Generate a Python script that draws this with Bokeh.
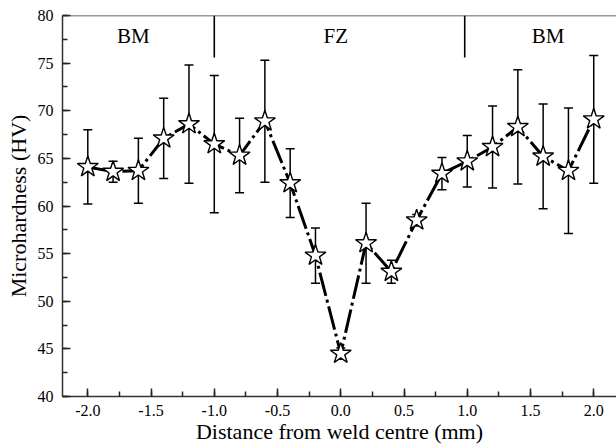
from bokeh.plotting import figure
from bokeh.models import (ColumnDataSource, Whisker, TeeHead, Span,
                          NumeralTickFormatter, SingleIntervalTicker, Range1d)
from bokeh.embed import file_html
from bokeh.resources import INLINE

# ---- data ----
distance = [-2.0, -1.8, -1.6, -1.4, -1.2, -1.0, -0.8, -0.6, -0.4, -0.2, 0.0,
            0.2, 0.4, 0.6, 0.8, 1.0, 1.2, 1.4, 1.6, 1.8, 2.0]
hardness = [64.1, 63.6, 63.7, 67.1, 68.6, 66.5, 65.3, 68.9, 62.4, 54.8, 44.5,
            56.1, 53.1, 58.5, 63.4, 64.7, 66.2, 68.3, 65.2, 63.7, 69.1]
error = [3.9, 1.1, 3.4, 4.2, 6.2, 7.2, 3.9, 6.4, 3.6, 2.9, 0.6,
         4.2, 1.2, 0.6, 1.7, 2.7, 4.3, 6.0, 5.5, 6.6, 6.7]

zone_bounds = [-1.0, 0.98]
zone_bound_bottom = 75.6
zone_names = ["BM", "FZ", "BM"]
zone_label_x = [-1.64, -0.04, 1.64]
zone_label_y = [77.8, 77.8, 77.8]

FONT = "Liberation Serif"

src = ColumnDataSource(dict(
    x=distance, y=hardness,
    upper=[h + e for h, e in zip(hardness, error)],
    lower=[h - e for h, e in zip(hardness, error)],
))

p = figure(width=616, height=446, output_backend="svg", toolbar_location=None,
           x_range=Range1d(-2.2, 2.18), y_range=Range1d(40, 80),
           min_border_left=62, min_border_right=0, min_border_top=15,
           min_border_bottom=42)
p.outline_line_color = None
p.grid.grid_line_color = None
p.background_fill_color = "white"

# error bars
w = Whisker(source=src, base="x", upper="upper", lower="lower",
            line_color="black", line_width=1.5, level="underlay",
            upper_head=TeeHead(size=9, line_width=1.5, line_color="black"),
            lower_head=TeeHead(size=9, line_width=1.5, line_color="black"))
p.add_layout(w)

# connecting line
p.line("x", "y", source=src, line_color="black", line_width=3,
       line_dash="24 4 3 4")

# star markers
p.scatter("x", "y", source=src, marker="star", size=22,
          fill_color="white", line_color="black", line_width=1.4)

# zone boundaries
p.segment(x0=zone_bounds, x1=zone_bounds, y0=[zone_bound_bottom] * 2,
          y1=[80, 80], line_color="black", line_width=1.6)

# top frame line
p.add_layout(Span(location=80, dimension="width", line_color="#333333",
                  line_width=1.5))

p.text(x=zone_label_x, y=zone_label_y, text=zone_names,
       text_font=FONT, text_font_size="21px", text_align="center",
       text_baseline="middle", text_color="black")

# axes
for ax in (p.xaxis[0], p.yaxis[0]):
    ax.axis_line_color = "#333333"
    ax.axis_line_width = 1.5
    ax.major_tick_in = 8
    ax.major_tick_out = 0
    ax.minor_tick_in = 5
    ax.minor_tick_out = 0
    ax.major_tick_line_color = "#222222"
    ax.minor_tick_line_color = "#222222"
    ax.major_tick_line_width = 1.5
    ax.minor_tick_line_width = 1.5
    ax.major_label_text_font = FONT
    ax.major_label_text_font_size = "16px"
    ax.major_label_text_color = "black"
    ax.axis_label_text_font = FONT
    ax.axis_label_text_font_size = "22px"
    ax.axis_label_text_font_style = "normal"
    ax.axis_label_text_color = "black"

p.xaxis.ticker = SingleIntervalTicker(interval=0.5, num_minor_ticks=2)
p.yaxis.ticker = SingleIntervalTicker(interval=5, num_minor_ticks=2)
p.xaxis.formatter = NumeralTickFormatter(format="0.0")
p.xaxis.axis_label = "Distance from weld centre (mm)"
p.yaxis.axis_label = "Microhardness (HV)"
p.xaxis.major_label_standoff = 8
p.xaxis.axis_label_standoff = 0
p.yaxis.major_label_standoff = 9
p.yaxis.axis_label_standoff = 4

open("out.html", "w").write(file_html(p, INLINE))
